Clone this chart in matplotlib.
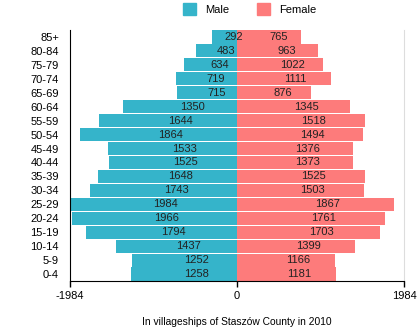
import matplotlib
matplotlib.use("Agg")
import matplotlib.pyplot as plt
from matplotlib.patches import Patch

# ─── Data ─────────────────────────────────────────────────────────────────────
ages = ["0-4", "5-9", "10-14", "15-19", "20-24", "25-29", "30-34", "35-39",
        "40-44", "45-49", "50-54", "55-59", "60-64", "65-69", "70-74",
        "75-79", "80-84", "85+"]
male = [1258, 1252, 1437, 1794, 1966, 1984, 1743, 1648,
        1525, 1533, 1864, 1644, 1350, 715, 719, 634, 483, 292]
female = [1181, 1166, 1399, 1703, 1761, 1867, 1503, 1525,
          1373, 1376, 1494, 1518, 1345, 876, 1111, 1022, 963, 765]

MALE_C = "#35b4ca"
FEMALE_C = "#fd7b7b"

plt.rcParams["font.family"] = ["Liberation Sans", "DejaVu Sans"]

fig = plt.figure(figsize=(4.2, 3.31), dpi=100)
ax = fig.add_axes([70 / 420, 1 - 281 / 331, 334 / 420, 251 / 331])

y = list(range(len(ages)))
ax.barh(y, [-m for m in male], height=0.94, color=MALE_C, linewidth=0)
ax.barh(y, female, height=0.94, color=FEMALE_C, linewidth=0)

# value labels start at the middle of each bar
for i in y:
    ax.text(-male[i] / 2, i, str(male[i]), ha="left", va="center",
            fontsize=8, color="#222222")
    ax.text(female[i] / 2, i, str(female[i]), ha="left", va="center",
            fontsize=8, color="#222222")

top = max(male)
ax.set_xlim(-top, top)
ax.set_ylim(-0.5, len(ages) - 0.5)
ax.set_xticks([-top, 0, top])
ax.set_xticklabels([f"-{top}", "0", f"{top}"], fontsize=8)
ax.set_yticks(y)
ax.set_yticklabels(ages, fontsize=8)
ax.tick_params(axis="y", length=0, pad=8)
ax.tick_params(axis="x", length=4, width=1, direction="out", pad=3)

ax.spines["top"].set_visible(False)
ax.spines["right"].set_color("#dddddd")
ax.spines["left"].set_color("black")
ax.spines["bottom"].set_color("black")

ax.set_xlabel("In villageships of Staszów County in 2010", fontsize=7.4,
              labelpad=12)

handles = [Patch(color=MALE_C, label="Male"),
           Patch(color=FEMALE_C, label="Female")]
fig.legend(handles=handles, loc="upper center", bbox_to_anchor=(0.594, 1.02),
           ncol=2, frameon=False, fontsize=8, handlelength=1.2,
           handleheight=1.2, columnspacing=2.5)

fig.savefig("out.png", dpi=100)
